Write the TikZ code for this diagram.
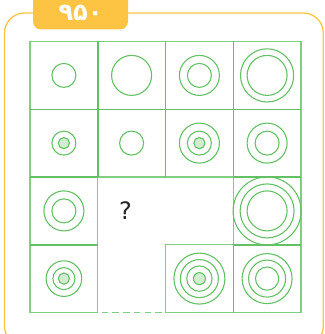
\documentclass[tikz,border=0pt]{standalone}
\usepackage{fontspec}
\newfontfamily\fa[Script=Arabic]{DejaVu Sans}
\setsansfont{DejaVu Sans}
\definecolor{gr}{RGB}{100,192,100}
\definecolor{grl}{RGB}{128,206,128}
\definecolor{gfill}{RGB}{210,236,210}
\definecolor{org}{RGB}{252,196,66}
\begin{document}
\begin{tikzpicture}[x=1pt,y=-1pt,
  cell/.style={draw=grl, line width=1.3pt},
  inner/.style={draw=gr, line width=1.5pt},
  ring/.style={draw=gr, line width=1.1pt},
  dot/.style={ring, fill=gfill}]
\useasboundingbox (0,0) rectangle (324,334);
% frame and tab
\draw[org, line width=1.3pt, rounded corners=20pt] (4.5,13) rectangle (323.3,346);
\fill[org, rounded corners=8pt] (33,-12) rectangle (128,29.5);
\node[text=white, font=\fa\bfseries\fontsize{24}{24}\selectfont] (title) at (80.5,12.5) {۹۵۰};
% cells
\foreach \c/\r in {1/1,2/1,3/1,4/1,1/2,2/2,3/2,4/2,1/3,4/3,1/4,3/4,4/4}
  \draw[cell] ({30+(\c-1)*67.75},{41.5+(\r-1)*67.75}) rectangle +(67.75,67.75);
% shared (darker) lines
\draw[inner] (30,109.25) -- (301,109.25);
\draw[inner] (30,177) -- (97.75,177) (233.25,177) -- (301,177);
\draw[inner] (30,244.75) -- (97.75,244.75) (233.25,244.75) -- (301,244.75);
\draw[inner] (97.75,41.5) -- (97.75,177) (165.5,41.5) -- (165.5,177) (233.25,41.5) -- (233.25,177);
\draw[inner] (233.25,244.75) -- (233.25,312.5);
\draw[cell, dash pattern=on 6.5pt off 4.2pt, dash phase=-4pt] (97.75,312.5) -- (165.5,312.5);
% row 1
\draw[ring] (63.9,75.4) circle[radius=12pt];
\draw[ring] (131.6,75.4) circle[radius=20pt];
\draw[ring] (199.4,75.4) circle[radius=20pt];
\draw[ring] (199.4,75.4) circle[radius=12pt];
\draw[ring] (267.1,75.4) circle[radius=26.6pt];
\draw[ring] (267.1,75.4) circle[radius=20pt];
% row 2
\draw[ring] (63.9,143.1) circle[radius=12pt];
\draw[dot] (63.9,143.1) circle[radius=5.6pt];
\draw[ring] (131.6,143.1) circle[radius=12pt];
\draw[ring] (199.4,143.1) circle[radius=20pt];
\draw[ring] (199.4,143.1) circle[radius=12pt];
\draw[dot] (199.4,143.1) circle[radius=5.6pt];
\draw[ring] (267.1,143.1) circle[radius=20pt];
\draw[ring] (267.1,143.1) circle[radius=12pt];
% row 3
\draw[ring] (63.9,210.9) circle[radius=20pt];
\draw[ring] (63.9,210.9) circle[radius=12pt];
\node[font=\sffamily\fontsize{24}{24}\selectfont, text=black!85] (q) at (125.5,210.5) {?};
\draw[ring] (267.1,210.9) circle[radius=34pt];
\draw[ring] (267.1,210.9) circle[radius=27pt];
\draw[ring] (267.1,210.9) circle[radius=20pt];
% row 4
\draw[ring] (63.9,278.6) circle[radius=17.8pt];
\draw[ring] (63.9,278.6) circle[radius=11pt];
\draw[dot] (63.9,278.6) circle[radius=5.6pt];
\draw[ring] (199.4,278.6) circle[radius=25.5pt];
\draw[ring] (199.4,278.6) circle[radius=19pt];
\draw[ring] (199.4,278.6) circle[radius=12.7pt];
\draw[dot] (199.4,278.6) circle[radius=6pt];
\draw[ring] (267.1,278.6) circle[radius=25pt];
\draw[ring] (267.1,278.6) circle[radius=18.5pt];
\draw[ring] (267.1,278.6) circle[radius=11.6pt];
\end{tikzpicture}
\end{document}
